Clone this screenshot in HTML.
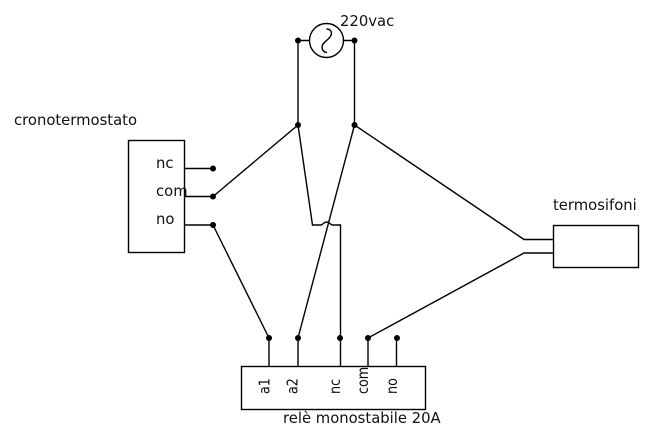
<!DOCTYPE html>
<html>
<head>
<meta charset="utf-8">
<style>
html,body{margin:0;padding:0;background:#fff;}
svg{display:block;}
text{font-family:"DejaVu Sans",sans-serif;font-size:14.8px;fill:#111;}
</style>
</head>
<body>
<svg width="655" height="438" viewBox="0 0 655 438" xmlns="http://www.w3.org/2000/svg">
<g fill="none" stroke="#000" stroke-width="1.4">
<rect x="128.500" y="140.500" width="56" height="112"/>
<rect x="553.500" y="225.500" width="85" height="42"/>
<rect x="241.500" y="366.500" width="184" height="43"/>
<circle cx="326.500" cy="40.500" r="17"/>
<path d="M326.500 29 C331 29 333 33 330 37 C327 41 322 43 322 47 C322 50 324 52.500 327 52.500"/>
<path d="M298 40.500H309.500M343.500 40.500H354.500"/>
<path d="M298 40.500V125M354.500 40.500V125"/>
<path d="M184.500 168.500H213M184.500 196.500H213M184.500 225H213"/>
<path d="M213 196.500L298 125"/>
<path d="M213 225L269 338V366"/>
<path d="M298 125L312.500 225H320.500C323 225 323.500 222 326.500 222C330 222 330 225 333 225H340.500V366"/>
<path d="M354.500 125L298 338V366"/>
<path d="M354.500 125L524 239.500H553.500"/>
<path d="M368 338L524 253H553.500"/>
<path d="M368 338V366M396.500 338V366"/>
</g>
<g fill="#000">
<circle cx="298" cy="40.500" r="3"/>
<circle cx="354.500" cy="40.500" r="3"/>
<circle cx="298" cy="125" r="3"/>
<circle cx="354.500" cy="125" r="3"/>
<circle cx="213" cy="168.500" r="3"/>
<circle cx="213" cy="196.500" r="3"/>
<circle cx="213" cy="225" r="3"/>
<circle cx="269" cy="338" r="3"/>
<circle cx="298" cy="338" r="3"/>
<circle cx="340" cy="338" r="3"/>
<circle cx="368" cy="338" r="3"/>
<circle cx="397" cy="338" r="3"/>
</g>
<text x="340" y="26">220vac</text>
<text x="14" y="125">cronotermostato</text>
<text x="156" y="168">nc</text>
<text x="156" y="196">com</text>
<text x="156" y="224">no</text>
<text x="553" y="210">termosifoni</text>
<text x="283" y="423">relè monostabile 20A</text>
<text transform="translate(269.500 394) rotate(-90) scale(0.86 1)">a1</text>
<text transform="translate(297.500 394) rotate(-90) scale(0.86 1)">a2</text>
<text transform="translate(340 394) rotate(-90) scale(0.86 1)">nc</text>
<text transform="translate(368 394) rotate(-90) scale(0.86 1)">com</text>
<text transform="translate(397 394) rotate(-90) scale(0.86 1)">no</text>
</svg>
</body>
</html>
